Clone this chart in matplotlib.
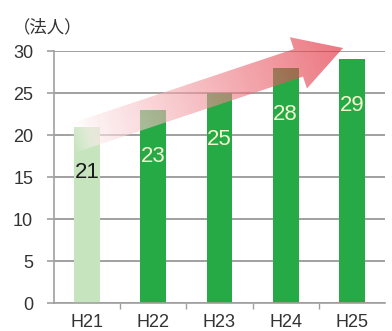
import numpy as np
import matplotlib.pyplot as plt
from matplotlib.patches import Polygon

plt.rcParams['font.family'] = ['Liberation Sans', 'Noto Sans CJK JP', 'DejaVu Sans']

years = ['H21', 'H22', 'H23', 'H24', 'H25']
counts = [21, 23, 25, 28, 29]
bar_colors = ['#c6e4bd', '#25aa45', '#25aa45', '#25aa45', '#25aa45']
label_colors = ['#1a1a1a', '#f2f5d0', '#f2f5d0', '#f2f5d0', '#f2f5d0']

W, H = 392, 331
fig = plt.figure(figsize=(W / 100, H / 100), dpi=100)
ax = fig.add_axes([54 / W, 28 / H, 331 / W, 252 / H])

x = np.arange(len(years))
ax.bar(x, counts, width=0.39, color=bar_colors, zorder=2)
for xi, c, col in zip(x, counts, label_colors):
    ax.text(xi, c - 5.5, str(c), ha='center', va='center',
            fontsize=16, color=col, zorder=4)

ax.set_xlim(-0.5, len(years) - 0.5)
ax.set_ylim(0, 30)
ax.set_yticks(range(0, 31, 5))
ax.yaxis.grid(True, color='#a0a0a0', linewidth=1.4, zorder=0)
ax.set_axisbelow(True)
for s in ['top', 'right']:
    ax.spines[s].set_visible(False)
for s in ['left', 'bottom']:
    ax.spines[s].set_color('#a0a0a0')
    ax.spines[s].set_linewidth(1.2)
ax.tick_params(axis='y', length=5, width=1.2, color='#a0a0a0', pad=10,
               labelsize=13, labelcolor='#333333')
ax.set_xticks(x)
ax.set_xticklabels(years)
ax.set_xticks(np.arange(0.5, len(years) - 0.5), minor=True)
ax.tick_params(axis='x', which='major', length=0, pad=8,
               labelsize=13, labelcolor='#333333')
ax.tick_params(axis='x', which='minor', length=4, width=1, color='#a0a0a0')

fig.text(13 / W, 1 - 27 / H, '（法人）', fontsize=12.5, color='#333333',
         va='center', ha='left', family=['Noto Sans CJK JP', 'DejaVu Sans'])

# growth arrow overlay, drawn in figure pixel space
ov = fig.add_axes([0, 0, 1, 1], zorder=5)
ov.set_xlim(0, W)
ov.set_ylim(H, 0)
ov.axis('off')

start = np.array([70.0, 139.0])
tip = np.array([343.0, 48.0])
length = np.linalg.norm(tip - start)
u = (tip - start) / length
n = np.array([-u[1], u[0]])
if n[1] < 0:
    n = -n
base = tip - 47 * u
sw, hw = 14.5, 27
pts = [start - sw * n, base - sw * n, base - hw * n, tip,
       base + hw * n, base + sw * n, start + sw * n]
arrow = Polygon(pts, closed=True, facecolor='none', edgecolor='none')
ov.add_patch(arrow)

gx, gy = np.meshgrid(np.arange(W) + 0.5, np.arange(H) + 0.5)
t = ((gx - start[0]) * u[0] + (gy - start[1]) * u[1]) / length
t = np.clip(t, 0, 1)
red = np.array([225, 35, 50]) / 255
rgba = np.zeros((H, W, 4))
for k in range(3):
    rgba[..., k] = (1 - t) + t * red[k]
rgba[..., 3] = 0.62 * np.clip(t / 0.08, 0, 1)
im = ov.imshow(rgba, extent=(0, W, H, 0), interpolation='bilinear')
im.set_clip_path(arrow)

fig.savefig('out.png', dpi=100)
